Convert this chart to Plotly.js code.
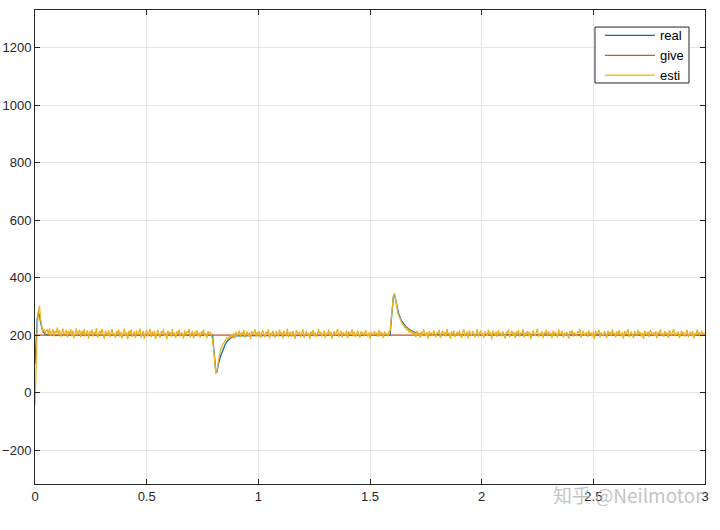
<!DOCTYPE html>
<html>
<head>
<meta charset="utf-8">
<script src="https://cdn.plot.ly/plotly-3.0.1.min.js"></script>
<style>html,body{margin:0;padding:0;background:#fff;}#chart{width:720px;height:530px;}</style>
</head>
<body>
<div id="chart"></div>
<script>
// Sample step of the "esti" series (seconds)
const estiStart = 0;
const estiStep = 0.005;
const estiValues = [
-45,120,230,280,302,255,225,212,222,207,216,
219,203,224,198,213,221,196,215,208,226,201,217,194,212,223,199,210,218,192,214,
205,221,197,216,189,211,224,200,207,219,193,215,202,222,196,209,217,188,213,206,
220,195,211,203,225,191,208,216,199,222,204,187,214,209,197,218,193,211,221,200,
206,190,215,202,219,194,212,189,207,223,198,210,186,216,203,220,195,208,213,191,
217,201,209,224,192,205,214,188,211,219,196,207,222,193,212,199,215,187,204,218,
202,191,213,206,220,197,209,185,216,203,211,194,221,200,208,190,214,205,219,195,
210,203,188,217,199,212,207,222,193,206,215,189,211,201,218,196,209,192,213,204,
220,197,207,190,214,202,211,196,
188,150,98,66,78,108,128,146,158,168,172,181,186,192,185,196,190,
201,194,207,189,212,198,205,216,193,209,200,218,191,204,213,197,210,186,215,203,
208,221,195,211,199,214,190,206,217,202,193,212,205,220,188,209,198,215,203,192,
213,207,196,219,201,210,189,216,204,198,222,193,208,211,195,214,200,187,217,206,
202,212,194,209,220,191,205,215,199,208,186,213,203,218,196,210,193,207,221,200,
211,195,204,216,190,208,201,219,197,212,188,206,214,199,209,222,194,203,215,192,
210,205,198,217,189,213,202,208,220,196,211,193,206,216,200,191,214,204,209,197,
218,203,195,210,187,212,206,199,215,201,208,194,219,197,211,205,190,213,202,207,196,214,
215,268,318,338,346,322,295,276,266,254,248,238,236,226,229,217,224,210,218,207,
213,200,209,194,216,203,207,191,212,198,220,205,196,211,188,214,202,209,197,217,
201,193,210,205,219,190,207,214,199,211,195,222,203,208,187,213,200,216,194,206,
211,198,215,202,190,209,220,196,205,212,189,217,203,199,214,207,193,210,221,195,
204,216,200,208,191,213,206,197,219,202,210,186,215,205,199,212,194,218,201,209,
196,214,203,188,211,207,220,193,205,216,199,210,190,213,202,218,195,208,204,221,
192,209,200,215,197,212,187,206,217,203,198,211,222,194,207,201,214,190,210,205,
219,196,213,202,208,189,216,199,211,204,193,220,200,207,215,192,209,198,212,203,
188,214,206,218,195,210,201,197,213,208,221,191,205,216,199,203,211,194,217,200,
209,196,212,187,215,204,207,219,193,210,202,198,214,206,190,216,201,211,197,220,
203,208,192,213,199,217,205,196,210,188,215,202,209,221,194,206,212,200,191,214,
207,198,218,203,211,195,209,186,216,204,200,213,193,219,206,201,210,197,214,189,
212,205,220,199,207,194,215,202,209,191,217,204,198,211,222,196,208,203,213,190,
206,216,200,211,195,209,218,193,204,212,197,214,188,207,201,219,203,210,196,215,
202,208,199
];

const realTime = [0,0.005,0.01,0.015,0.02,0.025,0.03,0.035,0.045,0.06,
  0.795,0.8,0.805,0.81,0.815,0.82,0.83,0.84,0.85,0.86,0.87,0.88,0.9,
  1.59,1.595,1.6,1.605,1.61,1.615,1.62,1.63,1.64,1.65,1.66,1.68,1.7,1.73,3];
const realValues = [100,190,255,280,270,245,225,212,204,200,
  200,160,105,70,72,95,125,148,165,178,186,192,198,
  200,250,305,335,340,325,300,270,252,240,230,218,210,203,200];

const giveTime = [0, 3];
const giveValues = [200, 200];

const seriesNames = ['real', 'give', 'esti'];
const seriesColors = ['#0072BD', '#D95319', '#EDB120'];

const xTickVals = [0, 0.5, 1, 1.5, 2, 2.5, 3];
const xTickText = ['0', '0.5', '1', '1.5', '2', '2.5', '3'];
const yTickVals = [-200, 0, 200, 400, 600, 800, 1000, 1200];

const traces = [
  {x: realTime, y: realValues, type: 'scatter', mode: 'lines', name: seriesNames[0],
   line: {color: seriesColors[0], width: 1.3}},
  {x: giveTime, y: giveValues, type: 'scatter', mode: 'lines', name: seriesNames[1],
   line: {color: seriesColors[1], width: 1.3}},
  {y: estiValues, x0: estiStart, dx: estiStep, type: 'scatter', mode: 'lines', name: seriesNames[2],
   line: {color: seriesColors[2], width: 1.3}}
];

const axisCommon = {
  showline: true, linecolor: '#262626', linewidth: 1, mirror: 'ticks',
  ticks: 'inside', ticklen: 5, tickcolor: '#262626', tickwidth: 1,
  showgrid: true, gridcolor: '#e5e5e5', gridwidth: 1, zeroline: false,
  tickfont: {family: 'Liberation Sans, Arial, sans-serif', size: 13, color: '#262626'}
};

const layout = {
  width: 720, height: 530,
  margin: {l: 35, r: 15, t: 10, b: 46},
  paper_bgcolor: '#ffffff', plot_bgcolor: '#ffffff',
  font: {family: 'Liberation Sans, Arial, sans-serif', size: 13, color: '#262626'},
  showlegend: true,
  legend: {
    x: 0.976, xanchor: 'right', y: 0.978, yanchor: 'top',
    bgcolor: 'rgba(0,0,0,0)', borderwidth: 0,
    font: {family: 'Liberation Sans, Arial, sans-serif', size: 13, color: '#000000'},
    itemwidth: 50, tracegroupgap: 0
  },
  shapes: [{
    type: 'rect', xref: 'paper', yref: 'paper', layer: 'above',
    x0: 0.8358, x1: 0.9761, y0: 0.846, y1: 0.964,
    fillcolor: '#ffffff', line: {color: '#262626', width: 1}
  }],
  xaxis: Object.assign({}, axisCommon, {range: [0, 3], tickvals: xTickVals, ticktext: xTickText}),
  yaxis: Object.assign({}, axisCommon, {range: [-318, 1332], tickvals: yTickVals}),
  annotations: [{
    text: '知乎 @Neilmotor', xref: 'paper', yref: 'paper', x: 1.0, y: -0.022,
    xanchor: 'right', yanchor: 'middle', showarrow: false,
    font: {family: 'Noto Sans CJK SC, sans-serif', size: 19, color: 'rgba(175,175,175,0.75)'}
  }]
};

Plotly.newPlot('chart', traces, layout, {displayModeBar: false, staticPlot: true});
</script>
</body>
</html>
